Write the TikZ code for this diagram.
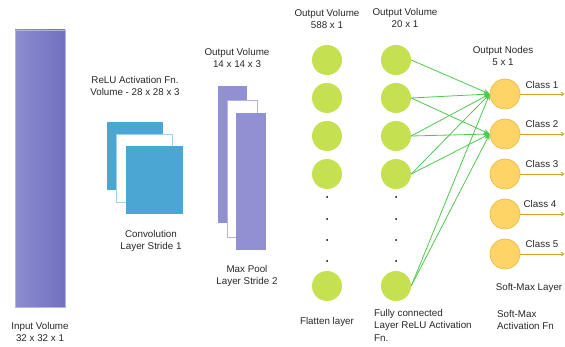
\documentclass[tikz,border=0pt]{standalone}
\usepackage{fontspec}
\setmainfont{Liberation Sans}
\usetikzlibrary{arrows.meta,positioning}

\definecolor{inLight}{RGB}{140,140,208}
\definecolor{inDark}{RGB}{112,112,192}
\definecolor{convBlue}{RGB}{75,166,211}
\definecolor{convEdge}{RGB}{160,210,236}
\definecolor{poolPurple}{RGB}{144,144,210}
\definecolor{poolEdge}{RGB}{180,180,228}
\definecolor{neuronGreen}{RGB}{197,224,80}
\definecolor{linkGreen}{RGB}{80,200,80}
\definecolor{outFill}{RGB}{255,212,102}
\definecolor{outEdge}{RGB}{232,184,64}
\definecolor{outLine}{RGB}{218,165,32}
\definecolor{txtGrey}{RGB}{40,40,40}

\tikzset{
  lbl/.style={align=center, font=\fontsize{9.8}{12.5}\selectfont, text=txtGrey, inner sep=0pt},
  neuron/.style={circle, fill=neuronGreen, minimum size=30pt, inner sep=0pt},
  outnode/.style={circle, fill=outFill, draw=outEdge, line width=0.6pt, minimum size=30pt, inner sep=0pt},
  link/.style={draw=linkGreen, line width=0.8pt, -{Stealth[length=6pt,width=5pt]}},
  outlink/.style={draw=outLine, line width=0.9pt, -{To[length=3pt,width=4pt]}},
  dot/.style={circle, fill=black, minimum size=2pt, inner sep=0pt}
}

\begin{document}
\begin{tikzpicture}[x=1pt, y=-1pt]
    \useasboundingbox[fill=white] (0,0) rectangle (565,347);

    %----------------------
    % INPUT VOLUME
    %----------------------
    \fill[left color=inLight, right color=inDark] (15,30) rectangle (65,307);
    \draw[poolEdge, line width=0.4pt] (15,30) rectangle (65,307);
    \node[lbl] (inlbl) at (40,332) {Input Volume\\32 x 32 x 1};

    %----------------------
    % CONVOLUTION LAYER
    %----------------------
    \fill[convBlue] (107,122) rectangle (163,190);
    \filldraw[fill=white, draw=convEdge, line width=0.8pt] (116,134) rectangle (172,202);
    \fill[convBlue] (126,146) rectangle (183,214);
    \node[lbl] (convtop) at (135,86) {ReLU Activation Fn.\\Volume - 28 x 28 x 3};
    \node[lbl] (convlbl) at (151,241) {Convolution\\Layer Stride 1};

    %----------------------
    % MAX POOL LAYER
    %----------------------
    \fill[poolPurple] (218,86) rectangle (247,223);
    \filldraw[fill=white, draw=poolEdge, line width=0.8pt] (227,100) rectangle (257,237);
    \fill[poolPurple] (236,113) rectangle (266,250);
    \node[lbl] (pooltop) at (237,58) {Output Volume\\14 x 14 x 3};
    \node[lbl] (poollbl) at (247,276) {Max Pool\\Layer Stride 2};

    %----------------------
    % FLATTEN LAYER
    %----------------------
    \node[neuron] (f1) at (327,60) {};
    \node[neuron] (f2) at (327,98) {};
    \node[neuron] (f3) at (327,136) {};
    \node[neuron] (f4) at (327,174) {};
    \node[neuron] (f5) at (327,286) {};
    \node[dot] at (327,197) {};
    \node[dot] at (327,219) {};
    \node[dot] at (327,240) {};
    \node[dot] at (327,261) {};
    \node[lbl] (flattop) at (327,19) {Output Volume\\588 x 1};
    \node[lbl] (flatlbl) at (327,322) {Flatten layer};

    %----------------------
    % FULLY CONNECTED LAYER
    %----------------------
    \node[neuron] (h1) at (396,60) {};
    \node[neuron] (h2) at (396,98) {};
    \node[neuron] (h3) at (396,136) {};
    \node[neuron] (h4) at (396,174) {};
    \node[neuron] (h5) at (396,286) {};
    \node[dot] at (396,197) {};
    \node[dot] at (396,219) {};
    \node[dot] at (396,240) {};
    \node[dot] at (396,261) {};
    \node[lbl] (fctop) at (405,18) {Output Volume\\20 x 1};
    \node[lbl, align=left, anchor=north west] (fclbl) at (374,309) {Fully connected\\Layer ReLU Activation\\Fn.};

    %----------------------
    % SOFT-MAX OUTPUT NODES
    %----------------------
    \node[outnode] (c1) at (505,94) {};
    \node[outnode] (c2) at (505,134) {};
    \node[outnode] (c3) at (505,174) {};
    \node[outnode] (c4) at (505,214) {};
    \node[outnode] (c5) at (505,254) {};
    \node[lbl] (outtop) at (503,56) {Output Nodes\\5 x 1};
    \node[lbl] (smlbl) at (529,288) {Soft-Max Layer};
    \node[lbl, align=left, anchor=west] (smfn) at (497,320) {Soft-Max\\Activation Fn};

    % class outputs
    \coordinate (e1) at (564,94);
    \coordinate (e2) at (564,134);
    \coordinate (e3) at (564,174);
    \coordinate (e4) at (564,214);
    \coordinate (e5) at (564,254);
    \draw[outlink] (c1.east) -- (e1);
    \draw[outlink] (c2.east) -- (e2);
    \draw[outlink] (c3.east) -- (e3);
    \draw[outlink] (c4.east) -- (e4);
    \draw[outlink] (c5.east) -- (e5);
    \node[lbl] (k1) at (542,85) {Class 1};
    \node[lbl] (k2) at (542,124) {Class 2};
    \node[lbl] (k3) at (542,164) {Class 3};
    \node[lbl] (k4) at (540,204) {Class 4};
    \node[lbl] (k5) at (542,244) {Class 5};

    %----------------------
    % CONNECTIONS FC -> OUTPUT
    %----------------------
    \draw[link] (h1.east) -- (c1.west);
    \draw[link] (h2.east) -- (c1.west);
    \draw[link] (h2.east) -- (c2.west);
    \draw[link] (h3.east) -- (c1.west);
    \draw[link] (h3.east) -- (c2.west);
    \draw[link] (h4.east) -- (c1.west);
    \draw[link] (h4.east) -- (c2.west);
    \draw[link] (h5.east) -- (c1.west);
    \draw[link] (h5.east) -- (c2.west);

\end{tikzpicture}
\end{document}
